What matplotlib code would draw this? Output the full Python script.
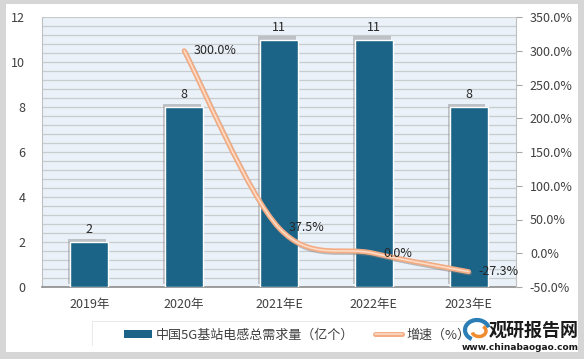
"""5G base station inductor demand chart."""

import matplotlib
matplotlib.use("Agg")
import matplotlib.pyplot as plt
import matplotlib.patheffects as pe
from matplotlib.path import Path
from matplotlib.patches import PathPatch, Rectangle, Arc
from matplotlib.lines import Line2D
from matplotlib.ticker import MultipleLocator, FuncFormatter

plt.rcParams["font.family"] = ["Noto Sans CJK SC", "DejaVu Sans"]

categories = ["2019年", "2020年", "2021年E", "2022年E", "2023年E"]
demand = [2, 8, 11, 11, 8]
growth_idx = [1, 2, 3, 4]
growth = [300.0, 37.5, 0.0, -27.3]

BAR_COLOR = "#1B6487"
LINE_COLOR = "#F3AC83"
TEXT = "#404040"


def smooth_path(xs, ys):
    """Excel-style smoothed line as cubic bezier segments."""
    pts = list(zip(xs, ys))
    verts = [pts[0]]
    codes = [Path.MOVETO]
    n = len(pts)
    for i in range(n - 1):
        p0 = pts[i - 1] if i > 0 else pts[i]
        p1 = pts[i]
        p2 = pts[i + 1]
        p3 = pts[i + 2] if i + 2 < n else pts[i + 1]
        c1 = (p1[0] + (p2[0] - p0[0]) / 6, p1[1] + (p2[1] - p0[1]) / 6)
        c2 = (p2[0] - (p3[0] - p1[0]) / 6, p2[1] - (p3[1] - p1[1]) / 6)
        verts += [c1, c2, p2]
        codes += [Path.CURVE4] * 3
    return Path(verts, codes)


fig = plt.figure(figsize=(5.84, 3.59), dpi=100, facecolor="#D6D6D6")
fig.patches.append(Rectangle((6 / 584, 7 / 359), 572 / 584, 348 / 359,
                             transform=fig.transFigure, facecolor="white",
                             edgecolor="none", zorder=-10))
# legend box
fig.patches.append(Rectangle((93 / 584, 1 - 347 / 359), 375 / 584, 25 / 359,
                             transform=fig.transFigure, facecolor="white",
                             edgecolor="none", zorder=-5,
                             path_effects=[pe.SimplePatchShadow(offset=(-1, 1), alpha=0.12),
                                           pe.Normal()]))

ax = fig.add_axes([42 / 584, 1 - 287 / 359, 474 / 584, 270 / 359])
ax.set_facecolor("#EAF1F8")
ax.set_ylim(0, 12)
ax.set_xlim(-0.5, 4.5)
ax.yaxis.set_major_locator(MultipleLocator(2))
ax.yaxis.set_minor_locator(MultipleLocator(0.4))
ax.grid(True, which="both", axis="y", color="#C9CCCF", linewidth=0.9)
ax.set_axisbelow(True)
for s in ["top", "right"]:
    ax.spines[s].set_visible(False)
ax.spines["left"].set_color("#BFBFBF")
ax.spines["bottom"].set_color("#8C8C8C")
ax.spines["bottom"].set_linewidth(1.2)
ax.tick_params(axis="y", which="both", length=0, labelsize=9, labelcolor=TEXT, pad=12)
ax.tick_params(axis="x", length=0, labelsize=9, labelcolor=TEXT, pad=8)

x = list(range(len(categories)))
bars = ax.bar(x, demand, width=0.4, color=BAR_COLOR, edgecolor="white",
              linewidth=1.0, zorder=3)
for b in bars:
    b.set_path_effects([pe.SimplePatchShadow(offset=(-1.5, 2.2), shadow_rgbFace="#8A8A8A",
                                             alpha=0.45), pe.Normal()])
ax.set_xticks(x)
ax.set_xticklabels(categories)
for xi, v in zip(x, demand):
    ax.annotate(str(v), (xi, v), xytext=(0, 4), textcoords="offset points",
                ha="center", va="bottom", fontsize=9, color="#262626")

ax2 = ax.twinx()
ax2.set_ylim(-50, 350)
ax2.yaxis.set_major_locator(MultipleLocator(50))
ax2.yaxis.set_major_formatter(FuncFormatter(lambda v, p: f"{v:.1f}%"))
for s in ["top", "left", "bottom"]:
    ax2.spines[s].set_visible(False)
ax2.spines["right"].set_color("#BFBFBF")
ax2.tick_params(axis="y", length=4, color="#A6A6A6", labelsize=9, labelcolor=TEXT, pad=6)

curve = PathPatch(smooth_path(growth_idx, growth), fill=False, edgecolor=LINE_COLOR,
                  linewidth=3.6, capstyle="round", zorder=4,
                  transform=ax2.transData)
curve.set_path_effects([
    pe.SimpleLineShadow(offset=(0.6, -1.0), shadow_color="#808080", alpha=0.5),
    pe.Normal(),
    pe.Stroke(linewidth=1.2, foreground="#FCDCC6"),
])
ax2.add_patch(curve)
for xi, v in zip(growth_idx, growth):
    ax2.annotate(f"{v:.1f}%", (xi, v), xytext=(7, 0), textcoords="offset points",
                 ha="left", va="center", fontsize=9, color="#262626", zorder=6)

handles = [
    Rectangle((0, 0), 1, 1, facecolor=BAR_COLOR, edgecolor="none"),
    Line2D([0], [0], color=LINE_COLOR, linewidth=3.6, solid_capstyle="round",
           path_effects=[pe.Normal(), pe.Stroke(linewidth=1.2, foreground="#FCDCC6")]),
]
leg = fig.legend(handles, ["中国5G基站电感总需求量（亿个）", "增速（%）"],
                 loc="center left", bbox_to_anchor=(114 / 584, 1 - 335 / 359), ncol=2,
                 frameon=False, fontsize=9.4, handlelength=2.1, handleheight=0.5,
                 handletextpad=0.3, columnspacing=1.6, borderpad=0.3, labelcolor=TEXT)

# watermark logo
fig.patches.append(Arc((477 / 584, 1 - 330 / 359), 24 / 584, 20 / 359, theta1=20,
                       theta2=250, transform=fig.transFigure, color="#2A7DB5",
                       linewidth=3))
fig.patches.append(Arc((479 / 584, 1 - 331 / 359), 14 / 584, 11 / 359, theta1=200,
                       theta2=420, transform=fig.transFigure, color="#F08C2E",
                       linewidth=2.5))
fig.text(534 / 584, 1 - 330 / 359, "观研报告网", ha="center", va="center",
         fontsize=13, fontweight="bold", color="#1A1A1A")
fig.text(520 / 584, 1 - 347 / 359, "www.chinabaogao.com", ha="center", va="center",
         fontsize=6.5, fontweight="bold", color="#1A1A1A", family="DejaVu Sans")

fig.savefig("out.png", dpi=100, facecolor=fig.get_facecolor())
